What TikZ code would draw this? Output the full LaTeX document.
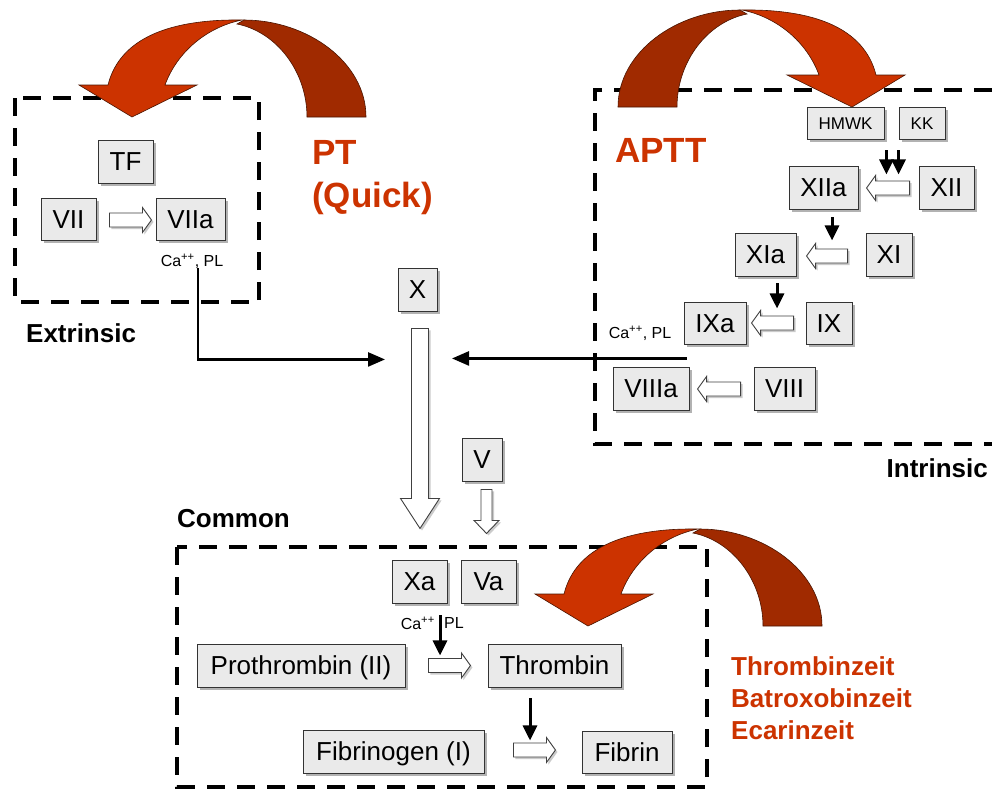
\documentclass[tikz,border=0pt]{standalone}
\usepackage{fontspec}
\setmainfont{Liberation Sans}
\usetikzlibrary{calc,shadows,arrows.meta}
\definecolor{redA}{HTML}{CC3300}
\definecolor{redB}{HTML}{A02A00}
\definecolor{redE}{HTML}{4A1400}
\definecolor{boxfill}{HTML}{EAEAEA}
\tikzset{
  fac/.style={draw=black!80, fill=boxfill, line width=0.9pt, inner sep=0pt,
    text height=18pt, text depth=0pt, font=\fontsize{26}{30}\selectfont,
    drop shadow={shadow xshift=3pt, shadow yshift=-3pt, fill=black!50, opacity=0.6}},
  facs/.style={fac, text height=12pt, font=\fontsize{17}{20}\selectfont},
  dbox/.style={line width=4pt, dash pattern=on 18pt off 12pt},
  conn/.style={line width=2.5pt, -{Triangle[length=17pt,width=14pt]}},
  shortarr/.style={line width=3pt, -{Triangle[length=15pt,width=14pt]}},
  hollowarr/.style={draw=black!75, fill=white, line width=0.9pt,
    drop shadow={shadow xshift=2pt, shadow yshift=-2pt, fill=black!40, opacity=0.5}},
  redfill/.style={fill=redA, draw=redE, line width=0.6pt},
  darkfill/.style={fill=redB, draw=redE, line width=0.6pt},
  redlabel/.style={text=redA, font=\bfseries\fontsize{35}{40}\selectfont, inner sep=0pt},
  redsmall/.style={text=redA, font=\bfseries\fontsize{26}{30}\selectfont, inner sep=0pt},
  grouplabel/.style={font=\bfseries\fontsize{26}{30}\selectfont, inner sep=0pt},
  ionlabel/.style={font=\fontsize{16}{18}\selectfont, inner sep=0pt},
}
\newcommand{\harrowR}[2]{\coordinate (hatail) at #1;
  \draw[hollowarr] ($(hatail)+(0,-7)$) -- ++({#2-9},0) -- ++(0,-5.5) -- ++(9,12.5) -- ++(-9,12.5) -- ++(0,-5.5) -- ++({-#2+9},0) -- cycle;}
\newcommand{\harrowL}[2]{\coordinate (hatail) at #1;
  \draw[hollowarr] ($(hatail)+(0,-7)$) -- ++({-#2+9},0) -- ++(0,-5.5) -- ++(-9,12.5) -- ++(9,12.5) -- ++(0,-5.5) -- ++({#2-9},0) -- cycle;}
\newcommand{\harrowD}[5]{\coordinate (hatail) at #1;
  \draw[hollowarr] ($(hatail)+(-#3,0)$) -- ++(0,{#2-#5}) -- ++({#3-#4},0) -- ++(#4,#5) -- ++(#4,-#5) -- ++({#3-#4},0) -- ++(0,{#5-#2}) -- cycle;}
\newcommand{\redbend}{%
  \path[darkfill] (112,-97) .. controls (175,-97) and (234,-55) .. (234,0) -- (175,0) .. controls (175,-45) and (145,-85) .. (105,-93) -- cycle;
  \path[redfill] (-24,-32) .. controls (-12,-80) and (40,-98) .. (110,-97) .. controls (75,-90) and (45,-65) .. (33,-32) -- (65,-32) -- (0,0) -- (-53,-32) -- cycle;}
\begin{document}
\begin{tikzpicture}[x=1pt,y=-1pt]
\useasboundingbox (0,0) rectangle (992,790);
\fill[white] (0,0) rectangle (992,790);

% dashed group boxes
\draw[dbox] (15,98) rectangle (259,302);
\draw[dbox] (992,90) -- (595,90) -- (595,444) -- (992,444);
\draw[dbox] (177,547) rectangle (707,787);

% red bent arrows
\begin{scope}[shift={(132,117)}] \redbend \end{scope}
\begin{scope}[shift={(852,107)}, xscale=-1] \redbend \end{scope}
\begin{scope}[shift={(588,626)}] \redbend \end{scope}

% extrinsic
\node[fac, minimum width=55pt, minimum height=43pt] (TF) at (125.5,161.5) {TF};
\node[fac, minimum width=55pt, minimum height=42pt] (VII) at (68.5,219) {VII};
\node[fac, minimum width=69pt, minimum height=42pt] (VIIa) at (190.5,219) {VIIa};
\node[ionlabel] (ionE) at (192,261) {Ca\textsuperscript{++}, PL};

% X
\node[fac, minimum width=39pt, minimum height=43pt] (X) at (417.5,289.5) {X};

% intrinsic
\node[facs, minimum width=77pt, minimum height=32pt] (HMWK) at (845.5,123) {HMWK};
\node[facs, minimum width=46pt, minimum height=32pt] (KK) at (922,123) {KK};
\node[fac, minimum width=69pt, minimum height=43pt] (XIIa) at (823.5,187.5) {XIIa};
\node[fac, minimum width=55pt, minimum height=43pt] (XII) at (946.5,187.5) {XII};
\node[fac, minimum width=61pt, minimum height=43pt] (XIa) at (765.5,254.5) {XIa};
\node[fac, minimum width=46pt, minimum height=43pt] (XI) at (889,254.5) {XI};
\node[fac, minimum width=62pt, minimum height=42pt] (IXa) at (715,323) {IXa};
\node[fac, minimum width=46pt, minimum height=42pt] (IX) at (829,323) {IX};
\node[fac, minimum width=76pt, minimum height=43pt] (VIIIa) at (651,388.5) {VIIIa};
\node[fac, minimum width=61pt, minimum height=43pt] (VIII) at (784.5,388.5) {VIII};
\node[ionlabel] (ionI) at (640,333) {Ca\textsuperscript{++}, PL};

% common
\node[fac, minimum width=40pt, minimum height=43pt] (V) at (482,459.5) {V};
\node[fac, minimum width=55pt, minimum height=43pt] (Xa) at (419.5,581.5) {Xa};
\node[fac, minimum width=55pt, minimum height=43pt] (Va) at (488.5,581.5) {Va};
\node[fac, minimum width=208pt, minimum height=43pt] (Prothrombin) at (301,665.5) {Prothrombin (II)};
\node[fac, minimum width=133pt, minimum height=43pt] (Thrombin) at (554.5,665.5) {Thrombin};
\node[fac, minimum width=181pt, minimum height=43pt] (Fibrinogen) at (393.5,751.5) {Fibrinogen (I)};
\node[fac, minimum width=90pt, minimum height=42pt] (Fibrin) at (627,752) {Fibrin};
\node[ionlabel, anchor=east] (ionCa) at (435,623) {Ca\textsuperscript{++}};
\node[ionlabel, anchor=west] (ionPL) at (444,623) {PL};

% hollow conversion arrows
\harrowR{($(VII.east)+(13,1)$)}{42}
\harrowL{($(XII.west)+(-9,0.5)$)}{43}
\harrowL{($(XI.west)+(-18,1.5)$)}{41}
\harrowL{($(IX.west)+(-12,0)$)}{42}
\harrowL{($(VIII.west)+(-13,0.5)$)}{43}
\harrowR{($(Prothrombin.east)+(23,0)$)}{42}
\harrowR{($(Fibrinogen.east)+(29,-1.5)$)}{42}
\harrowD{($(X.south)+(2.5,17)$)}{200}{8.5}{19.5}{30}
\harrowD{($(V.south)+(4.5,8)$)}{44}{5.5}{12.5}{13}

% black connectors
\coordinate (exS) at ($(VIIa.south)+(7.5,28)$);
\coordinate (exT) at ($(X.south)+(-32.5,48)$);
\draw[conn] (exS) |- (exT);
\coordinate (inS) at ($(IXa.south west)+(3,14)$);
\coordinate (inT) at ($(X.south)+(34.5,47)$);
\draw[conn] (inS) -- (inT);
\draw[shortarr] ($(HMWK.south east)+(2,11)$) -- ($(HMWK.south east)+(2,35)$);
\draw[shortarr] ($(KK.south west)+(0,11)$) -- ($(KK.south west)+(0,35)$);
\draw[shortarr] ($(XIIa.south)+(8.5,8)$) -- ($(XIIa.south)+(8.5,31)$);
\draw[shortarr] ($(XIa.south)+(11.5,7)$) -- ($(XIa.south)+(11.5,32)$);
\draw[shortarr] ($(Xa.south)+(20.5,12)$) -- ($(Xa.south)+(20.5,52)$);
\draw[shortarr] ($(Thrombin.south)+(-24.5,11)$) -- ($(Thrombin.south)+(-24.5,53)$);

% labels
\node[grouplabel, anchor=base west] (lExt) at (26,342) {Extrinsic};
\node[grouplabel, anchor=base east] (lInt) at (988,477) {Intrinsic};
\node[grouplabel, anchor=base west] (lCom) at (177,527) {Common};
\node[redlabel, anchor=base west] (lPT) at (312,164.5) {PT};
\node[redlabel, anchor=base west] (lQuick) at (312,207.5) {(Quick)};
\node[redlabel, anchor=base west] (lAPTT) at (615,162) {APTT};
\node[redsmall, anchor=base west] (lTZ) at (731,675) {Thrombinzeit};
\node[redsmall, anchor=base west] (lBZ) at (731,707) {Batroxobinzeit};
\node[redsmall, anchor=base west] (lEZ) at (731,739) {Ecarinzeit};
\end{tikzpicture}
\end{document}
